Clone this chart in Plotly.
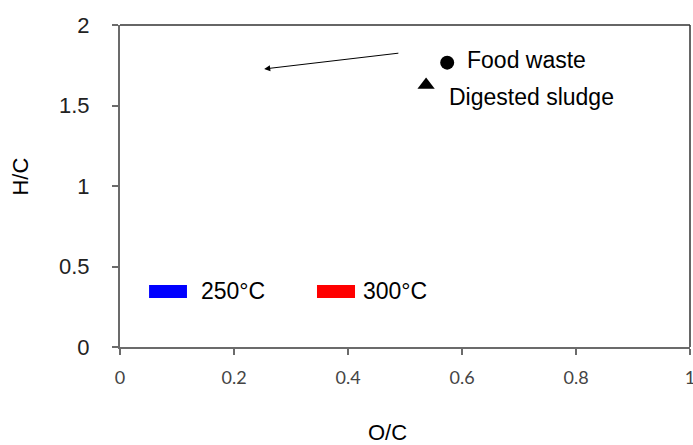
import plotly.graph_objects as go

# Data
names = ["Food waste", "Digested sludge"]
oc = [0.574, 0.537]
hc = [1.766, 1.627]
symbols = ["circle", "triangle-up"]
arrow_tail = (0.491, 1.826)
arrow_head = (0.253, 1.727)
series_names = ["250°C", "300°C"]
series_colors = ["#0000ff", "#ff0000"]
x_ticks = [0, 0.2, 0.4, 0.6, 0.8, 1]
y_ticks = [0, 0.5, 1, 1.5, 2]

fig = go.Figure()
fig.add_trace(go.Scatter(
    x=oc, y=hc, mode="markers",
    marker=dict(symbol=symbols, size=[14, 15], color="black", opacity=1,
                line=dict(width=0)),
    showlegend=False, hoverinfo="skip"))

ann = []
shapes = []
# point labels
label_shift = [(18, 3), (21, -12)]
for n, x, y, (dx, dy) in zip(names, oc, hc, label_shift):
    ann.append(dict(x=x, y=y, xref="x", yref="y", text=n, showarrow=False,
                    xanchor="left", yanchor="middle", xshift=dx, yshift=dy,
                    font=dict(family="Liberation Sans", size=23, color="black")))
# arrow
ann.append(dict(x=arrow_head[0], y=arrow_head[1], ax=arrow_tail[0], ay=arrow_tail[1],
                xref="x", yref="y", axref="x", ayref="y", text="", showarrow=True,
                arrowhead=2, arrowsize=1.2, arrowwidth=1, arrowcolor="black"))
# legend
sw_x = [(0.051, 0.1175), (0.3456, 0.4123)]
txt_x = [0.138, 0.4226]
for nm, col, (x0, x1), tx in zip(series_names, series_colors, sw_x, txt_x):
    shapes.append(dict(type="rect", xref="x", yref="y", x0=x0, x1=x1, y0=0.304, y1=0.385,
                       fillcolor=col, line=dict(width=0)))
    ann.append(dict(x=tx, y=0.345, xref="x", yref="y", text=nm, showarrow=False,
                    xanchor="left", yanchor="middle",
                    font=dict(family="Liberation Sans", size=23, color="black")))
# frame top / right
shapes.append(dict(type="line", xref="paper", yref="paper", x0=0, x1=1, y0=1, y1=1,
                   line=dict(color="#333333", width=1.5)))
shapes.append(dict(type="line", xref="paper", yref="paper", x0=1, x1=1, y0=0, y1=1,
                   line=dict(color="#333333", width=1.5)))
# axis titles
ann.append(dict(x=0.47, y=-0.22, xref="paper", yref="paper", text="O/C", showarrow=False,
                xanchor="center", yanchor="top",
                font=dict(family="Liberation Sans", size=22, color="black")))
ann.append(dict(x=-0.175, y=0.53, xref="paper", yref="paper", text="H/C", showarrow=False,
                textangle=-90, xanchor="center", yanchor="middle",
                font=dict(family="Liberation Sans", size=22, color="black")))

fig.update_layout(
    width=693, height=445,
    margin=dict(l=120, r=3, t=25, b=98, autoexpand=False),
    paper_bgcolor="white", plot_bgcolor="white",
    annotations=ann, shapes=shapes, showlegend=False,
    xaxis=dict(range=[0, 1], tickvals=x_ticks, ticktext=[f"{v:g}" for v in x_ticks],
               automargin=False,
               showgrid=False, zeroline=False, showline=True, linecolor="#6b6b6b", linewidth=2,
               ticks="outside", ticklen=6, tickcolor="#6b6b6b", tickwidth=1.5,
               ticklabelstandoff=7, ticklabeloverflow="allow",
               tickfont=dict(family="Lato", size=18, color="#444444")),
    yaxis=dict(range=[0, 2], tickvals=y_ticks, ticktext=[f"{v:g}" for v in y_ticks],
               automargin=False,
               showgrid=False, zeroline=False, showline=True, linecolor="#6b6b6b", linewidth=2,
               ticks="outside", ticklen=6, tickcolor="#6b6b6b", tickwidth=1.5,
               ticklabelstandoff=18,
               tickfont=dict(family="Liberation Sans", size=22, color="#222222")),
)
fig.write_html("out.html")
